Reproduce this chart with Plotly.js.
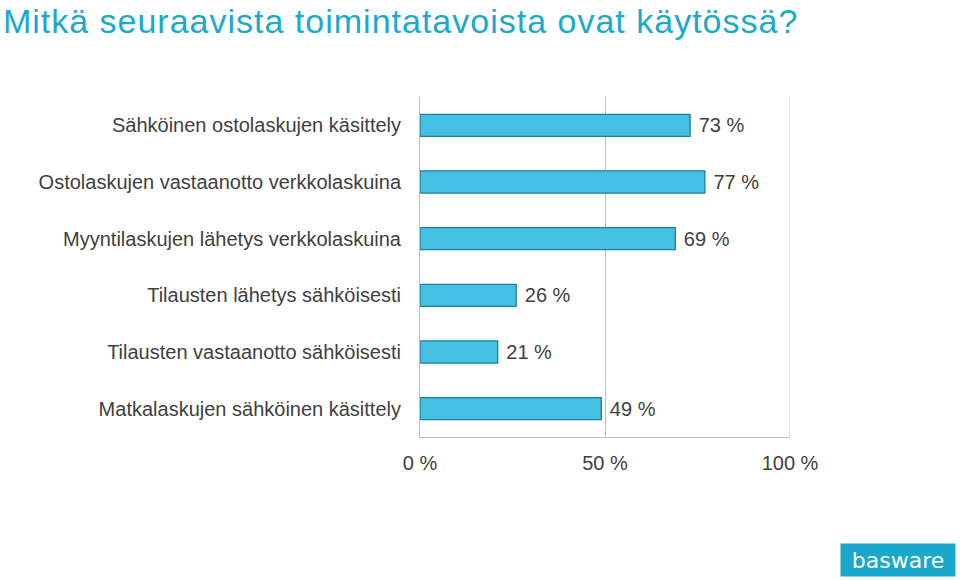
<!DOCTYPE html>
<html><head><meta charset="utf-8">
<script src="https://cdn.plot.ly/plotly-3.0.1.min.js"></script>
<style>body{margin:0;background:#fff}#c{width:960px;height:580px}
#c .gtitle{letter-spacing:1px}</style>
</head><body><div id="c"></div>
<script>
const categories = [
  "Sähköinen ostolaskujen käsittely",
  "Ostolaskujen vastaanotto verkkolaskuina",
  "Myyntilaskujen lähetys verkkolaskuina",
  "Tilausten lähetys sähköisesti",
  "Tilausten vastaanotto sähköisesti",
  "Matkalaskujen sähköinen käsittely"
];
const values = [73, 77, 69, 26, 21, 49];
const tickVals = [0, 50, 100];
const tickLabels = ["0 %", "50 %", "100 %"];
const valueLabels = values.map(v => "\u00a0" + v + " %");

const font = "Liberation Sans, Arial, sans-serif";
Plotly.newPlot("c", [{
  type: "bar", orientation: "h",
  x: values, y: categories,
  text: valueLabels, textposition: "outside", cliponaxis: false,
  textfont: {family: font, size: 20, color: "#404040"},
  width: 0.39,
  marker: {color: "#45c0e3", line: {color: "#1f7e9a", width: 1.3}},
  hoverinfo: "none"
}], {
  width: 960, height: 580,
  margin: {l: 420, r: 170, t: 97, b: 143},
  paper_bgcolor: "#fff", plot_bgcolor: "#fff",
  showlegend: false,
  title: {text: "Mitkä seuraavista toimintatavoista ovat käytössä?", x: 0.003, xanchor: "left", xref: "container", yref: "container", y: 0.984, yanchor: "top",
          font: {family: font, size: 34, color: "#1ba9cc"}, pad: {l: 0, t: 0}},
  xaxis: {range: [0, 100], tickvals: tickVals, ticktext: tickLabels, showgrid: true, gridcolor: "#bfbfbf", gridwidth: 1,
          zeroline: false, showline: true, linecolor: "#bfbfbf", mirror: false, ticks: "",
          tickfont: {family: font, size: 20, color: "#404040"}, fixedrange: true, ticklabelstandoff: 8},
  yaxis: {autorange: "reversed", showline: true, linecolor: "#bfbfbf", ticks: "", showgrid: false,
          tickfont: {family: font, size: 20, color: "#404040"}, ticklabelstandoff: 14, fixedrange: true},
  shapes: [
    {type: "line", xref: "x", yref: "paper", x0: 100, x1: 100, y0: 0, y1: 1, line: {color: "#bfbfbf", width: 1}}
  ],
  annotations: [
    {text: "basware", xref: "paper", yref: "paper", x: 1.4486, y: -0.4118, xanchor: "right", yanchor: "bottom",
     showarrow: false, bgcolor: "#1aa8cc", width: 110, height: 28, borderpad: 2, align: "center",
     font: {family: "DejaVu Sans, sans-serif", size: 22, color: "#ffffff"}}
  ]
}, {displayModeBar: false, staticPlot: true});
</script></body></html>
